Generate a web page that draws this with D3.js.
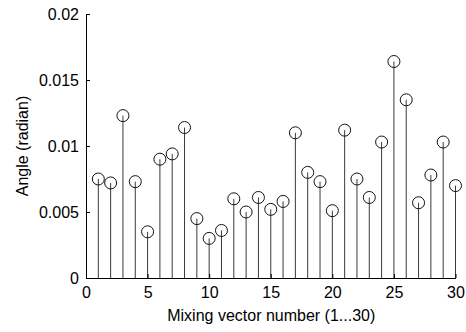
<!DOCTYPE html>
<html>
<head>
<meta charset="utf-8">
<script src="https://cdn.jsdelivr.net/npm/d3@7"></script>
<style>
  body { margin: 0; background: #fff; }
  text { font-family: "Liberation Sans", Arial, sans-serif; }
</style>
</head>
<body>
<script>
// stem values, one per mixing vector
let vectorIds = d3.range(1, 31);
let angles = [0.0075, 0.0072, 0.0123, 0.0073, 0.0035, 0.009, 0.0094, 0.0114, 0.0045, 0.003,
              0.0036, 0.006, 0.005, 0.0061, 0.0052, 0.0058, 0.011, 0.008, 0.0073, 0.0051,
              0.0112, 0.0075, 0.0061, 0.0103, 0.0164, 0.0135, 0.0057, 0.0078, 0.0103, 0.007];
let xTicks = [0, 5, 10, 15, 20, 25, 30];
let yTicks = [0, 0.005, 0.01, 0.015, 0.02];
let yTickLabels = ['0', '0.005', '0.01', '0.015', '0.02'];

let svgWidth = 466, svgHeight = 332;
let plotLeft = 86, plotRight = 455.5, plotTop = 14, plotBottom = 278;
let fontSize = 16;

let svg = d3.select('body').append('svg').attr('width', svgWidth).attr('height', svgHeight);

let x = d3.scaleLinear().domain([0, 30]).range([plotLeft, plotRight]);
let y = d3.scaleLinear().domain([0, 0.02]).range([plotBottom, plotTop]);

let data = vectorIds.map((id, i) => ({ id: id, v: angles[i] }));

// stems (run up to the marker centre, like matlab's stem)
svg.selectAll('line.stem')
   .data(data)
   .enter()
   .append('line')
   .attr('class', 'stem')
   .attr('x1', d => x(d.id)).attr('x2', d => x(d.id))
   .attr('y1', y(0)).attr('y2', d => y(d.v))
   .attr('stroke', '#3a3a3a').attr('stroke-width', 1);

// circles
svg.selectAll('circle')
   .data(data)
   .enter()
   .append('circle')
   .attr('cx', d => x(d.id))
   .attr('cy', d => y(d.v))
   .attr('r', 6)
   .attr('fill', 'none')
   .attr('stroke', '#111').attr('stroke-width', 1);

// axes, ticks pointing inward
let xAxis = d3.axisBottom(x).tickValues(xTicks).tickSizeInner(-4).tickSizeOuter(0).tickPadding(9);
let yAxis = d3.axisLeft(y).tickValues(yTicks).tickFormat((d, i) => yTickLabels[i])
              .tickSizeInner(-4).tickSizeOuter(0).tickPadding(7);

let gx = svg.append('g').attr('transform', 'translate(0,' + plotBottom + ')').call(xAxis);
let gy = svg.append('g').attr('transform', 'translate(' + plotLeft + ',0)').call(yAxis);

[gx, gy].forEach(g => {
  g.selectAll('path, line').attr('stroke', '#000');
  g.selectAll('text').attr('font-size', fontSize).attr('fill', '#000')
   .style('font-family', '"Liberation Sans", Arial, sans-serif');
});

svg.append('text')
   .attr('x', (plotLeft + plotRight) / 2 + 0.5).attr('y', 321)
   .attr('text-anchor', 'middle').attr('font-size', fontSize)
   .text('Mixing vector number (1...30)');

svg.append('text')
   .attr('transform', 'translate(28,' + (plotTop + plotBottom) / 2 + ') rotate(-90)')
   .attr('text-anchor', 'middle').attr('font-size', fontSize)
   .text('Angle (radian)');
</script>
</body>
</html>
